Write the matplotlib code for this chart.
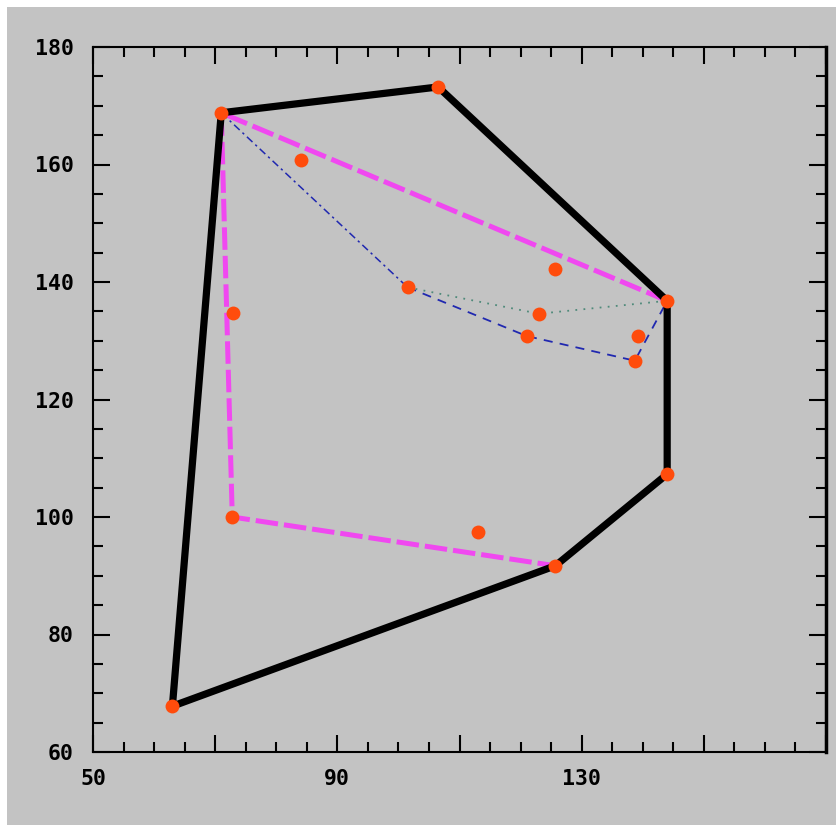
import numpy as np
import matplotlib
matplotlib.use("Agg")
import matplotlib.pyplot as plt
from matplotlib.patches import Rectangle

# all the points
px = [71, 106.5, 144, 144, 125.7, 63, 84, 73, 72.8, 113, 101.5, 125.7, 123, 121, 139.3, 138.7]
py = [168.8, 173.2, 136.8, 107.3, 91.7, 67.8, 160.8, 134.7, 100, 97.4, 139.1, 142.2, 134.6, 130.8, 130.8, 126.6]

# outer hull (black), second layer (magenta), inner paths
hull1 = [5, 0, 1, 2, 3, 4, 5]
hull2 = [2, 0, 8, 4]
blue_dd = [0, 10]
blue_dash = [10, 13, 15, 2]
green_dot = [10, 12, 2]

xticks_major = [50, 70, 90, 110, 130, 150, 170]
xlabels = ["50", "", "90", "", "130", "", ""]
yticks_major = [60, 80, 100, 120, 140, 160, 180]

bg = "#c3c3c3"
fig = plt.figure(figsize=(8.36, 8.25), dpi=100, facecolor="white")
fig.patches.append(Rectangle((7/836, 0), 1, 1 - 7/825, transform=fig.transFigure,
                             facecolor=bg, edgecolor="none", zorder=-1))
ax = fig.add_axes([93/836, 73/825, (826-93)/836, (752-47)/825])
ax.set_facecolor(bg)

def path(idx):
    return [px[i] for i in idx], [py[i] for i in idx]

x, y = path(hull1)
ax.plot(x, y, color="black", lw=5.2, solid_joinstyle="miter", zorder=3)
x, y = path(hull2)
ax.plot(x, y, color="#f048f0", lw=3.6, dashes=(4.5, 1.2), zorder=2)
x, y = path(blue_dd)
ax.plot(x, y, color="#2028b0", lw=1.1, dashes=(5, 2.5, 1.5, 2.5), zorder=2)
x, y = path(blue_dash)
ax.plot(x, y, color="#2028b0", lw=1.3, dashes=(5, 4), zorder=2)
x, y = path(green_dot)
ax.plot(x, y, color="#4f8a7a", lw=1.3, dashes=(1, 3.5), zorder=2)

ax.plot(px, py, "o", color="#ff4c0c", ms=10, mec="none", zorder=4)

ax.set_xlim(50, 170)
ax.set_ylim(60, 180)
ax.set_xticks(xticks_major)
ax.set_xticklabels(xlabels)
ax.set_xticks(np.arange(50, 171, 5), minor=True)
ax.set_yticks(yticks_major)
ax.set_yticks(np.arange(60, 181, 5), minor=True)

ax.tick_params(which="both", direction="in", top=True, right=True, width=1.5, color="black")
ax.tick_params(which="major", length=12)
ax.tick_params(which="minor", length=7)
ax.tick_params(axis="x", pad=12)
ax.tick_params(axis="y", pad=14)
for lab in ax.get_xticklabels() + ax.get_yticklabels():
    lab.set_fontfamily("DejaVu Sans Mono")
    lab.set_fontweight("bold")
    lab.set_fontsize(15.5)

for s in ax.spines.values():
    s.set_linewidth(1.5)
ax.spines["right"].set_linewidth(2.5)

fig.savefig("out.png", dpi=100, facecolor=fig.get_facecolor())
